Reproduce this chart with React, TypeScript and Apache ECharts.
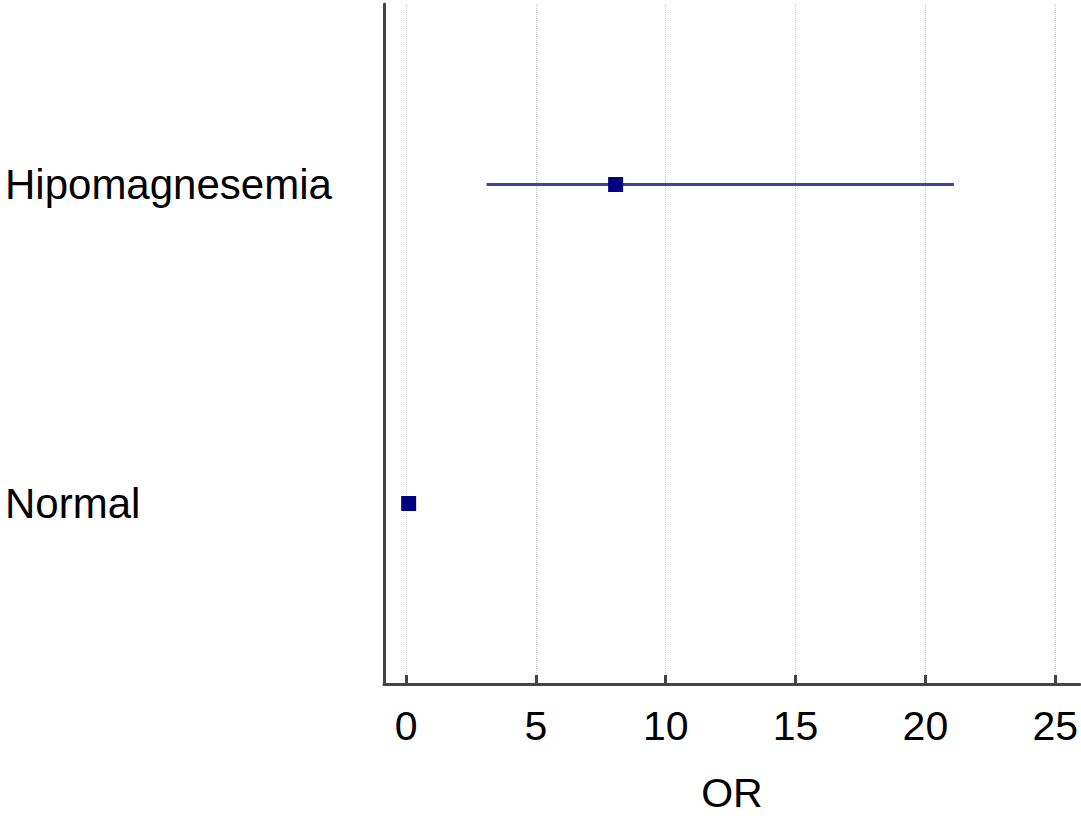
import React, { useEffect, useRef } from "react";
import * as echarts from "echarts";

const categories = ["Normal", "Hipomagnesemia"];
const orValues = [0.1, 8.07];
const ciLow = [null, 3.1];
const ciHigh = [null, 21.1];
const xTicks = [0, 5, 10, 15, 20, 25];

export default function App() {
  const ref = useRef<HTMLDivElement>(null);
  useEffect(() => {
    if (!ref.current) return;
    const chart = echarts.init(ref.current, null, { renderer: "svg" });
    const font = "'Liberation Sans', Arial, Helvetica, sans-serif";
    const ciSeries: any[] = [];
    categories.forEach((c, i) => {
      if (ciLow[i] != null && ciHigh[i] != null) {
        ciSeries.push({
          type: "line",
          data: [
            [ciLow[i], i],
            [ciHigh[i], i],
          ],
          symbol: "none",
          lineStyle: { color: "#3b3fb0", width: 3 },
          z: 2,
        });
      }
    });
    chart.setOption({
      animation: false,
      grid: { left: 384, right: 0, top: 4, bottom: 132, containLabel: false },
      xAxis: {
        type: "value",
        min: -0.85,
        max: 25.95,
        name: "OR",
        nameLocation: "middle",
        nameGap: 88,
        nameTextStyle: { fontSize: 41, color: "#000", fontFamily: font },
        axisLine: { show: true, onZero: false, lineStyle: { color: "#444", width: 3 } },
        axisTick: {
          show: true,
          inside: true,
          length: 9,
          customValues: xTicks,
          lineStyle: { color: "#444", width: 3 },
        },
        axisLabel: {
          customValues: xTicks,
          fontSize: 41,
          color: "#000",
          fontFamily: font,
          margin: 21,
        },
        splitLine: {
          show: true,
          lineStyle: { color: "#c8c8c8", type: "dotted", width: 1 },
        },
      },
      yAxis: {
        type: "value",
        min: -0.566,
        max: 1.566,
        axisLine: { show: true, onZero: false, lineStyle: { color: "#444", width: 3 } },
        axisTick: { show: false },
        splitLine: { show: false },
        axisLabel: {
          customValues: [0, 1],
          formatter: (v: number) => categories[Math.round(v)] ?? "",
          align: "left",
          margin: 379,
          fontSize: 42,
          color: "#000",
          fontFamily: font,
        },
      },
      series: [
        ...ciSeries,
        {
          type: "scatter",
          data: orValues.map((v, i) => [v, i]),
          symbol: "rect",
          symbolSize: 15,
          itemStyle: { color: "#000080", opacity: 1 },
          z: 3,
        },
      ],
    });
    return () => chart.dispose();
  }, []);
  return <div ref={ref} style={{ width: 1081, height: 818, position: "absolute", left: 0, top: 0 }} />;
}
